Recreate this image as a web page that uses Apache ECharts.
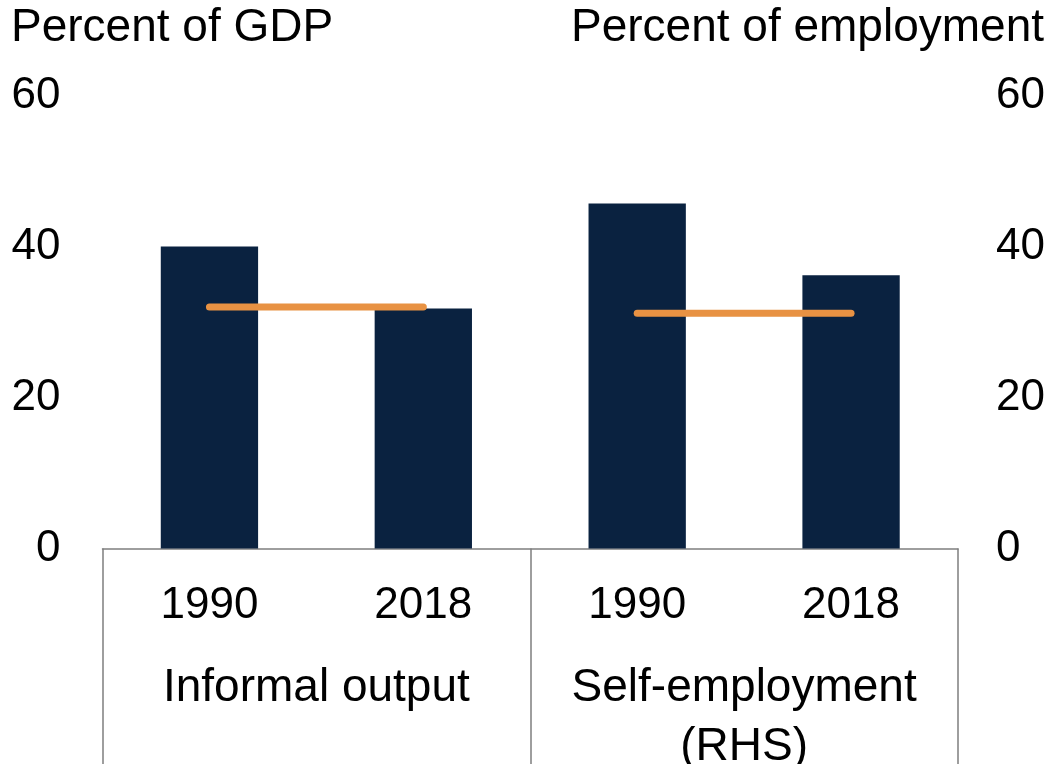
<!DOCTYPE html>
<html lang="en">
	<head>
		<meta charset="UTF-8">
		<title>Informal output and self-employment</title>
		<script src="https://cdn.jsdelivr.net/npm/echarts@6/dist/echarts.min.js"></script>
		<style type="text/css">
			html, body {
				margin: 0;
				padding: 0;
				background: #fff;
			}
			#main {
				width: 1059px;
				height: 764px;
			}
		</style>
	</head>
	<body>
		<div id="main"></div>
		<script>
			// data
			var years = ['1990', '2018', '1990', '2018'];
			var groups = ['Informal output', 'Self-employment\n(RHS)'];
			var informalBars = [40, 31.8, '-', '-'];
			var selfEmpBars = ['-', '-', 45.7, 36.2];
			var informalAvg = [32, 32, '-', '-'];
			var selfEmpAvg = ['-', '-', 31.15, 31.15];
			var yTicks = [0, 20, 40, 60];

			var navy = '#0a2240';
			var orange = '#e89243';
			var grey = '#7f7f7f';
			var font = 'Liberation Sans, Arial, Helvetica, sans-serif';

			var myChart = echarts.init(document.getElementById('main'));

			var yAxisBase = {
				type: 'value',
				min: yTicks[0],
				max: yTicks[yTicks.length - 1],
				interval: 20,
				axisLine: {show: false},
				axisTick: {show: false},
				splitLine: {show: false}
			};

			var option = {
				animation: false,
				backgroundColor: '#fff',
				textStyle: {fontFamily: font},
				title: [{
					text: 'Percent of GDP',
					left: 11,
					top: 5,
					padding: 0,
					textStyle: {fontSize: 46, fontWeight: 'normal', color: '#000', fontFamily: font}
				}, {
					text: 'Percent of employment',
					right: 15,
					top: 5,
					padding: 0,
					textStyle: {fontSize: 46, fontWeight: 'normal', color: '#000', fontFamily: font}
				}],
				grid: {
					left: 102.5,
					right: 101,
					top: 95.5,
					bottom: 215.5,
					containLabel: false,
					outerBoundsMode: 'none'
				},
				xAxis: [{
					type: 'category',
					data: years,
					position: 'bottom',
					axisLine: {show: false},
					axisTick: {show: false},
					axisLabel: {
						interval: 0,
						margin: 35,
						fontSize: 44,
						color: '#000',
						fontFamily: font
					}
				}, {
					type: 'category',
					data: groups,
					position: 'bottom',
					axisLine: {show: true, lineStyle: {color: grey, width: 1.5}},
					axisTick: {
						show: true,
						interval: 0,
						length: 220,
						lineStyle: {color: grey, width: 1.5}
					},
					axisLabel: {
						interval: 0,
						hideOverlap: false,
						margin: 110,
						fontSize: 46,
						lineHeight: 59,
						color: '#000',
						fontFamily: font
					}
				}],
				yAxis: [
					Object.assign({}, yAxisBase, {
						position: 'left',
						axisLabel: {margin: 42, fontSize: 44, color: '#000', fontFamily: font}
					}),
					Object.assign({}, yAxisBase, {
						position: 'right',
						axisLabel: {margin: 38, fontSize: 44, color: '#000', fontFamily: font}
					})
				],
				series: [{
					name: 'Informal output',
					type: 'bar',
					xAxisIndex: 0,
					yAxisIndex: 0,
					barWidth: '45.5%',
					barGap: '-100%',
					data: informalBars,
					itemStyle: {color: navy}
				}, {
					name: 'Self-employment',
					type: 'bar',
					xAxisIndex: 0,
					yAxisIndex: 1,
					barWidth: '45.5%',
					barGap: '-100%',
					data: selfEmpBars,
					itemStyle: {color: navy}
				}, {
					name: 'Informal average',
					type: 'line',
					xAxisIndex: 0,
					yAxisIndex: 0,
					data: informalAvg,
					symbol: 'none',
					lineStyle: {color: orange, width: 7, cap: 'round'}
				}, {
					name: 'Self-employment average',
					type: 'line',
					xAxisIndex: 0,
					yAxisIndex: 1,
					data: selfEmpAvg,
					symbol: 'none',
					lineStyle: {color: orange, width: 7, cap: 'round'}
				}]
			};

			myChart.setOption(option);
		</script>
	</body>
</html>
